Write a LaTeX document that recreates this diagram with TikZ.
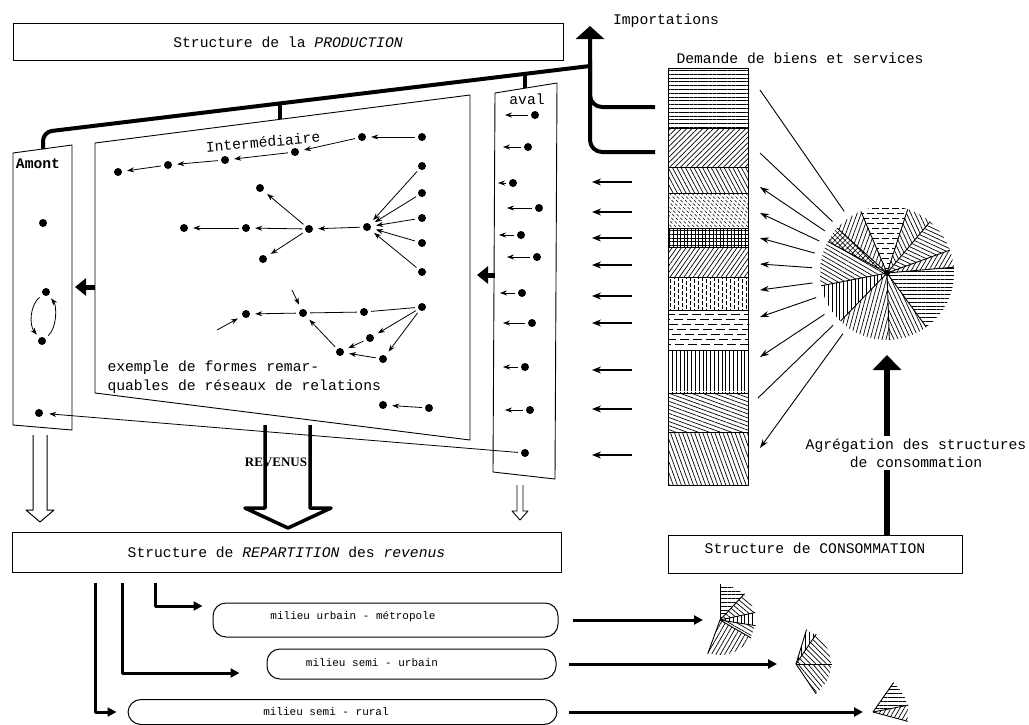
\documentclass[tikz,border=0pt]{standalone}
\usepackage{fontspec}
\setmainfont{Liberation Mono}
\newfontfamily\revfont{Liberation Serif}
\usetikzlibrary{arrows.meta,positioning,calc,patterns.meta}
\tikzset{
    titlebox/.style={draw,line width=1pt,inner sep=2pt},
    panel/.style={draw,line width=0.9pt},
    pill/.style={draw,line width=1pt,rounded corners=13pt},
    pilltext/.style={font=\fontsize{11}{13}\selectfont},
    dot/.style={circle,fill=black,inner sep=0pt,minimum size=8pt},
    arr/.style={-{Stealth[length=7pt,width=5pt]},line width=0.8pt,shorten <=3pt,shorten >=5pt},
    plain/.style={line width=0.8pt,shorten <=3pt,shorten >=3pt},
    ray/.style={line width=0.9pt},
    rayarr/.style={ray,-{Stealth[length=9pt,width=6pt]}},
    lefta/.style={-{Stealth[length=9pt,width=7pt]},line width=1.3pt},
    bus/.style={line width=4pt},
    fat/.style={-{Triangle[length=11pt,width=17pt]},line width=5pt},
    upfat/.style={-{Triangle[length=15pt,width=28pt]},line width=6pt},
    lcon/.style={-{Triangle[length=9pt,width=9pt]},line width=3pt},
    hatch/.style={pattern={Lines[angle=#1,distance=3.8pt,line width=0.7pt]}},
    cross/.style={pattern={Hatch[angle=#1,distance=3.6pt,line width=0.6pt]}}
}
\begin{document}
\begin{tikzpicture}[x=1pt,y=-1pt,font=\fontsize{14.7}{18}\selectfont,line join=round]
\useasboundingbox (0,0) rectangle (1029,724);

% structure boxes
\node[titlebox,minimum width=550pt,minimum height=37pt] (prod) at (288,42) {Structure de la \textit{PRODUCTION}};
\node[titlebox,minimum width=549pt,minimum height=40pt] (rep) at (286.5,552) {Structure de \textit{REPARTITION} des \textit{revenus}};
\node[titlebox,minimum width=294pt,minimum height=38pt,text depth=12pt] (cons) at (815,554) {Structure de CONSOMMATION};

% panels
\draw[panel] (13,153) -- (72,145) -- (72,430) -- (13,425) -- cycle;
\draw[panel] (95,143) -- (470,95) -- (470,440) -- (95,393) -- cycle;
\draw[panel] (495,93) -- (557,83) -- (555,479) -- (493,472) -- cycle;
\node[font=\fontsize{14.7}{18}\selectfont\bfseries] (amont) at (38,164) {Amont};
\node (aval) at (527,99) {aval};
\node[rotate=5] (inter) at (263,142) {Intermédiaire};

% bus to importations
\draw[bus,rounded corners=9pt] (43,149) -- (43,132) -- (590,66);
\draw[bus] (280,119) -- (280,103);
\draw[bus] (525,88) -- (525,74);
\draw[bus,rounded corners=12pt] (655,107) -- (590,107) -- (590,60);
\draw[bus,rounded corners=12pt,-{Triangle[length=13pt,width=28pt]}] (655,152) -- (590,152) -- (590,26);
\node (imp) at (666,21) {Importations};

% amont
\node[dot] (a1) at (43,223) {};
\node[dot] (a2) at (46,292) {};
\node[dot] (a3) at (42,341) {};
\node[dot] (a4) at (39,413) {};
\draw[arr,shorten <=4pt,shorten >=4pt] (a2) .. controls (30,305) and (29,325) .. (a3);
\draw[arr,shorten <=4pt,shorten >=4pt] (a3) .. controls (57,328) and (57,306) .. (a2);

% intermediaire: chain
\node[dot] (c1) at (422,137) {};
\node[dot] (c2) at (362,137) {};
\node[dot] (c3) at (295,152) {};
\node[dot] (c4) at (225,160) {};
\node[dot] (c5) at (168,165) {};
\node[dot] (c6) at (118,172) {};
\foreach \s/\t in {c1/c2,c2/c3,c3/c4,c4/c5,c5/c6}
    \draw[arr] (\s) -- (\t);

% intermediaire: fan
\node[dot] (f1) at (422,166) {};
\node[dot] (f2) at (422,193) {};
\node[dot] (f3) at (422,218) {};
\node[dot] (f4) at (422,243) {};
\node[dot] (f5) at (422,272) {};
\node[dot] (h1) at (367,227) {};
\node[dot] (h2) at (309,229) {};
\node[dot] (g1) at (260,188) {};
\node[dot] (g2) at (246,228) {};
\node[dot] (g3) at (263,259) {};
\node[dot] (g4) at (184,228) {};
\foreach \s/\t in {f1/h1,f2/h1,f3/h1,f4/h1,f5/h1,h1/h2,h2/g1,h2/g2,h2/g3,g2/g4}
    \draw[arr] (\s) -- (\t);

% intermediaire: loop
\node[dot] (l1) at (422,307) {};
\node[dot] (l2) at (364,312) {};
\node[dot] (l3) at (303,313) {};
\node[dot] (l4) at (246,314) {};
\node[dot] (l5) at (370,338) {};
\node[dot] (l6) at (383,359) {};
\node[dot] (l7) at (340,352) {};
\coordinate (l3in) at (292,290);
\coordinate (l4in) at (217,330);
\draw[plain] (l1) -- (l2);
\draw[plain] (l2) -- (l3);
\foreach \s/\t in {l3/l4,l1/l5,l1/l6,l5/l7,l6/l7,l7/l3}
    \draw[arr] (\s) -- (\t);
\draw[arr,shorten <=0pt] (l3in) -- (l3);
\draw[arr,shorten <=0pt] (l4in) -- (l4);

\node[align=left,anchor=west,font=\fontsize{14.7}{19}\selectfont] (ex) at (104,377)
{exemple de formes remar-\\quables de réseaux de relations};

\node[dot] (b1) at (383,405) {};
\node[dot] (b2) at (429,408) {};
\draw[arr] (b2) -- (b1);

% aval
\foreach \n/\x/\y/\t in {1/535/115/505,2/528/147/503,3/513/183/498,4/539/208/507,
    5/521/235/499,6/537/257/507,7/522/293/500,8/532/323/503,9/525/367/503,10/530/410/505}{
    \node[dot] (v\n) at (\x,\y) {};
    \coordinate (vt\n) at (\t,\y);
    \draw[arr,shorten >=0pt] (v\n) -- (vt\n);
}
\node[dot] (v11) at (525,453) {};
\draw[arr,shorten >=6pt] (v11) -- (a4);

% thick arrows between panels
\coordinate (avalL) at (495,275);
\coordinate (interT) at (477,275);
\draw[fat] (avalL) -- (interT);
\coordinate (interL) at (95,287);
\coordinate (amontT) at (75,287);
\draw[fat] (interL) -- (amontT);

% revenus
\draw[line width=1pt] (33,435) -- (33,510) -- (26,510) -- (40,522) -- (54,510) -- (47,510) -- (47,435);
\draw[line width=3.5pt] (265,425) -- (265,508) -- (245,508) -- (288,528) -- (331,508) -- (310,508) -- (310,425);
\draw[line width=0.9pt] (517,485) -- (517,511) -- (512,511) -- (520,520) -- (528,511) -- (523,511) -- (523,485);
\node[font=\revfont\bfseries\fontsize{13}{15}\selectfont] (rev) at (276,462) {REVENUS};

% demand column
\node (dem) at (800,58) {Demande de biens et services};
\path[hatch=0] (668,68) rectangle (748,128);
\path[hatch=45] (668,128) rectangle (748,167);
\path[hatch=118] (668,167) rectangle (748,193);
\begin{scope}
    \clip (668,193) rectangle (748,228);
    \foreach \k in {0,4.5,...,118}
        \draw[line width=0.7pt,dash pattern=on 3pt off 2pt] (633+\k,193) -- ++(35,35);
\end{scope}
\path[cross=0] (668,228) rectangle (748,247);
\path[hatch=55] (668,247) rectangle (748,277);
\foreach \x in {670,674,...,746}
    \draw[line width=0.7pt,dash pattern=on 4pt off 2pt,dash phase=\x pt] (\x,277) -- (\x,310);
\foreach \y in {314,319,...,346}
    \draw[line width=0.8pt,dash pattern=on 9pt off 4pt,dash phase=\y pt] (668,\y) -- (748,\y);
\path[hatch=90] (668,350) rectangle (748,393);
\path[hatch=160] (668,393) rectangle (748,432);
\path[hatch=110] (668,432) rectangle (748,485);
\foreach \y in {128,167,193,228,247,277,310,350,393,432}
    \draw[line width=0.8pt] (668,\y) -- (748,\y);
\node[draw,line width=1pt,minimum width=80pt,minimum height=417pt] (bar) at (708,276.5) {};

% arrows from column to aval
\foreach \y [count=\i] in {182,212,238,265,296,323,370,409,455}{
    \coordinate (ls\i) at (632,\y);
    \coordinate (le\i) at (592,\y);
    \draw[lefta] (ls\i) -- (le\i);
}

% pie
\coordinate (pie) at (887,273);
\foreach \a/\b/\h in {5/20/60,20/50/155,50/72/115,113/138/70,152/191/150,191/226/90,226/272/75,272/306/115,306/365/0}
    \path[hatch=\h] (pie) -- ++({-(\a)}:67) arc[start angle={-(\a)},end angle={-(\b)},radius=67] -- cycle;
\path[cross=45] (pie) -- ++(-138:67) arc[start angle=-138,end angle=-152,radius=67] -- cycle;
\begin{scope}
    \clip (pie) -- ++(-72:67) arc[start angle=-72,end angle=-113,radius=67] -- cycle;
    \foreach \y in {208,213,...,273}
        \draw[line width=0.8pt,dash pattern=on 7pt off 3pt,dash phase=\y pt] (820,\y) -- (955,\y);
\end{scope}
\foreach \a in {5,20,50,72,113,138,152,191,226,272,306}
    \draw[ray] (pie) -- ++({-(\a)}:67);
\fill (pie) circle (3);

% pie to column
\foreach \i/\x/\y in {1/760/90,2/760/153,3/760/187,4/760/213,5/760/238,6/760/264,
    7/760/290,8/760/317,9/760/357,10/758/398,11/760/448}
    \coordinate (e\i) at (\x,\y);
\foreach \i in {1,2,10}
    \draw[ray] ($(pie)!75pt!(e\i)$) -- (e\i);
\foreach \i in {3,4,5,6,7,8,9,11}
    \draw[rayarr] ($(pie)!75pt!(e\i)$) -- (e\i);

% aggregation
\coordinate (pietip) at (887,355);
\draw[upfat] (cons.north -| pietip) -- (pietip);
\node[fill=white,align=center,inner sep=3pt] (agg) at (916,453) {Agrégation des structures\\de consommation};

% milieux
\node[pill,minimum width=345pt,minimum height=34pt] (pill1) at (385.5,620) {};
\node[pilltext] (t1) at (353,617) {milieu urbain - métropole};
\node[pill,minimum width=289pt,minimum height=30pt] (pill2) at (411.5,664) {};
\node[pilltext] (t2) at (372,663) {milieu semi - urbain};
\node[pill,minimum width=429pt,minimum height=25pt] (pill3) at (342.5,712) {};
\node[pilltext] (t3) at (326,712) {milieu semi - rural};

\coordinate (r1) at (155,583);
\coordinate (r2) at (122,583);
\coordinate (r3) at (95,583);
\draw[lcon,shorten >=10pt] (r1) |- ([yshift=14pt]pill1.west);
\draw[lcon,shorten >=27pt] (r2) |- ([yshift=-9pt]pill2.west);
\draw[lcon,shorten >=11pt] (r3) |- (pill3.west);

% small pies
\coordinate (q1) at (720,620);
\coordinate (q2) at (796,664);
\coordinate (q3) at (873,712);
\draw[lcon,shorten <=14pt,shorten >=17pt] (pill1.east) -- (pill1.east -| q1);
\draw[lcon,shorten <=12pt,shorten >=19pt] (pill2.east) -- (pill2.east -| q2);
\draw[lcon,shorten <=11pt,shorten >=10pt] (pill3.east) -- (pill3.east -| q3);

\foreach \a/\b/\h in {47/90/0,12/47/140,-9/12/90,-30/-9/150,-110/-30/60}
    \path[hatch=\h] (q1) -- ++({-(\a)}:35) arc[start angle={-(\a)},end angle={-(\b)},radius=35] -- cycle;
\foreach \a in {90,47,12,-9,-30,-110}
    \draw[ray] (q1) -- ++({-(\a)}:36);
\foreach \a/\b/\h in {56/73/90,0/56/135,-56/0/130}
    \path[hatch=\h] (q2) -- ++({-(\a)}:35) arc[start angle={-(\a)},end angle={-(\b)},radius=35] -- cycle;
\foreach \a in {73,56,0,-56}
    \draw[ray] (q2) -- ++({-(\a)}:36);
\foreach \a/\b/\h in {11/55/0,-15/11/60}
    \path[hatch=\h] (q3) -- ++({-(\a)}:35) arc[start angle={-(\a)},end angle={-(\b)},radius=35] -- cycle;
\foreach \a in {55,11,-15}
    \draw[ray] (q3) -- ++({-(\a)}:36);

\end{tikzpicture}
\end{document}
